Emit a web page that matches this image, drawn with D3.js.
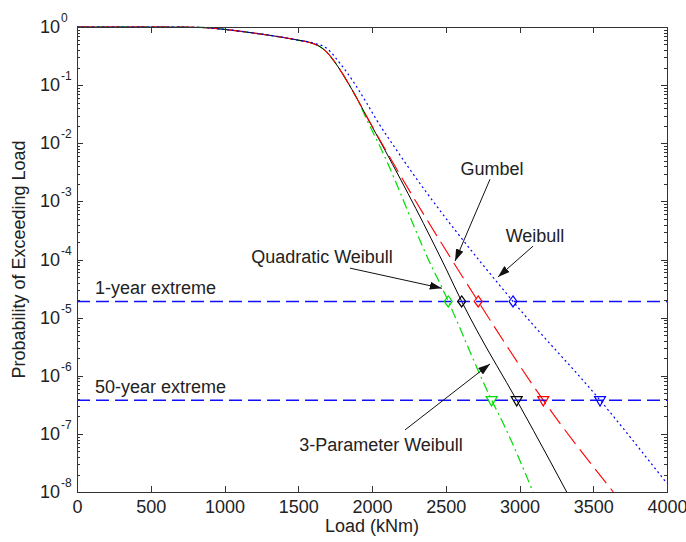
<!DOCTYPE html>
<html>
<head>
<meta charset="utf-8">
<script src="https://cdn.jsdelivr.net/npm/d3@7"></script>
<style>
  body { margin: 0; background: #fff; }
  text { font-family: "Liberation Sans", Arial, sans-serif; fill: #222; }
</style>
</head>
<body>
<svg id="chart" width="686" height="542"></svg>
<script>
/* global d3 */

// empirical body of the exceedance curve, shared by all fits
var bodyLoad = [0, 500, 830, 1000, 1130, 1290, 1400, 1490, 1580, 1640, 1690, 1740, 1780, 1830, 1900];
var bodyProb = [1, 1, 0.985, 0.91, 0.83, 0.73, 0.66, 0.60, 0.54, 0.47, 0.376, 0.265, 0.189, 0.118, 0.0577];

// fitted tails
var quadLoad = [1960, 2066, 2416, 2461, 2517, 2811, 2902, 3092];
var quadProb = [0.027, 7.6e-3, 6.6e-5, 3.9e-5, 1.9e-5, 3.8e-7, 1.3e-7, 1e-8];

var threeLoad = [1964, 2088, 2506, 2608, 2710, 2981, 3094, 3320];
var threeProb = [0.0286, 7.6e-3, 6.6e-5, 1.9e-5, 6.1e-6, 3.8e-7, 1.15e-7, 1e-8];

var gumLoad = [1964, 2100, 2720, 3161, 3636];
var gumProb = [0.029, 7.1e-3, 1.9e-5, 3.8e-7, 1e-8];

var weiLoad = [1600, 1693, 1783, 1873, 1964, 2032, 2167, 2956, 3546, 4000];
var weiProb = [0.53, 0.43, 0.237, 0.115, 0.049, 0.025, 7.6e-3, 1.9e-5, 3.8e-7, 1.4e-8];

// extreme levels and where each fit crosses them
var oneYearProb = 1.9e-5;
var fiftyYearProb = 3.8e-7;
var oneYearLoad = [2517, 2608, 2720, 2956];
var fiftyYearLoad = [2811, 2981, 3161, 3546];

var xTicks = [0, 500, 1000, 1500, 2000, 2500, 3000, 3500, 4000];
var yExp = [0, -1, -2, -3, -4, -5, -6, -7, -8];

// annotations (data coordinates)
var noteText = ['Gumbel', 'Weibull', 'Quadratic Weibull', '3-Parameter Weibull'];
var noteAt = [[2814, 2.8e-3], [3105, 2.0e-4], [1661, 8.7e-5], [2061, 5.1e-8]];
var noteFrom = [[2800, 2.4e-3], [3092, 1.7e-4], [1851, 7.1e-5], [2224, 1.17e-7]];
var noteTo = [[2563, 9.4e-5], [2854, 5.0e-5], [2473, 3.2e-5], [2800, 1.6e-6]];

var svg = d3.select('#chart');
var plotL = 77, plotR = 667, plotT = 27, plotB = 492;

var x = d3.scaleLinear().domain([0, 4000]).range([plotL, plotR]);
var y = d3.scaleLog().domain([1e-8, 1]).range([plotB, plotT]);

function zip(a, b) { return a.map(function(d, i) { return [d, b[i]]; }); }

var series = [
  { pts: zip(bodyLoad, bodyProb).concat(zip(quadLoad, quadProb)), color: '#00dd00', dash: '10,4,2,4', w: 1.2 },
  { pts: zip(bodyLoad, bodyProb).concat(zip(threeLoad, threeProb)), color: '#000000', dash: null, w: 1 },
  { pts: zip(bodyLoad, bodyProb).concat(zip(gumLoad, gumProb)), color: '#ff0000', dash: '18,7', w: 1.1 },
  { pts: zip(bodyLoad.slice(0, 8), bodyProb.slice(0, 8)).concat(zip(weiLoad, weiProb)), color: '#0000ff', dash: '2,3', w: 1.2 }
];

var defs = svg.append('defs');
defs.append('clipPath').attr('id', 'plotclip')
  .append('rect').attr('x', plotL).attr('y', plotT - 1)
  .attr('width', plotR - plotL).attr('height', plotB - plotT + 2);

defs.append('marker')
  .attr('id', 'head')
  .attr('viewBox', '0 0 12 8')
  .attr('refX', 12).attr('refY', 4)
  .attr('markerWidth', 12).attr('markerHeight', 8)
  .attr('markerUnits', 'userSpaceOnUse')
  .attr('orient', 'auto')
  .append('path').attr('d', 'M0,0L12,4L0,8Z').attr('fill', '#111');

var line = d3.line()
  .x(function(d) { return x(d[0]); })
  .y(function(d) { return y(d[1]); })
  .curve(d3.curveMonotoneX);

var plot = svg.append('g').attr('clip-path', 'url(#plotclip)');

plot.selectAll('path.fit')
  .data(series)
  .enter().append('path')
  .attr('class', 'fit')
  .attr('d', function(d) { return line(d.pts); })
  .attr('fill', 'none')
  .attr('stroke', function(d) { return d.color; })
  .attr('stroke-width', function(d) { return d.w; })
  .attr('stroke-dasharray', function(d) { return d.dash; });

// extreme level lines (a bit wider so the blue survives compression)
plot.selectAll('line.level')
  .data([oneYearProb, fiftyYearProb])
  .enter().append('line')
  .attr('class', 'level')
  .attr('x1', x(0)).attr('x2', x(4000))
  .attr('y1', function(d) { return y(d); })
  .attr('y2', function(d) { return y(d); })
  .attr('stroke', '#1010ff')
  .attr('stroke-width', 1.5)
  .attr('stroke-dasharray', '13,6');

svg.selectAll('text.level')
  .data([['1-year extreme', oneYearProb], ['50-year extreme', fiftyYearProb]])
  .enter().append('text')
  .attr('class', 'level')
  .attr('x', x(122))
  .attr('y', function(d) { return y(d[1]) - 7; })
  .style('font-size', '18px')
  .text(function(d) { return d[0]; });

// markers
svg.selectAll('path.diamond')
  .data(oneYearLoad)
  .enter().append('path')
  .attr('class', 'diamond')
  .attr('transform', function(d) { return 'translate(' + x(d) + ',' + y(oneYearProb) + ')'; })
  .attr('d', 'M0,-5.5L4,0L0,5.5L-4,0Z')
  .attr('fill', 'none')
  .attr('stroke-width', 1.2)
  .attr('stroke', function(d, i) { return series[i].color; });

svg.selectAll('path.tri')
  .data(fiftyYearLoad)
  .enter().append('path')
  .attr('class', 'tri')
  .attr('transform', function(d) { return 'translate(' + x(d) + ',' + y(fiftyYearProb) + ')'; })
  .attr('d', 'M-5.5,-3.5L5.5,-3.5L0,6Z')
  .attr('fill', 'none')
  .attr('stroke-width', 1.2)
  .attr('stroke', function(d, i) { return series[i].color; });

// axes, box style with inward ticks
var axisColor = '#333';
var minor = [];
d3.range(-8, 0).forEach(function(e) {
  for (var m = 2; m <= 9; m++) minor.push(m * Math.pow(10, e));
});
var major = yExp.map(function(e) { return Math.pow(10, e); });

function styleAxis(g) {
  g.selectAll('.domain').remove();
  g.selectAll('line').attr('stroke', axisColor).attr('shape-rendering', 'crispEdges');
  g.selectAll('text').style('font-size', '18px').attr('fill', '#222').attr('font-family', null);
}

svg.append('g').attr('transform', 'translate(0,' + plotB + ')')
  .call(d3.axisBottom(x).tickValues(xTicks).tickSize(-6).tickPadding(8).tickFormat(d3.format('d')))
  .call(styleAxis);

svg.append('g').attr('transform', 'translate(0,' + plotT + ')')
  .call(d3.axisTop(x).tickValues(xTicks).tickSize(-6).tickFormat(''))
  .call(styleAxis);

[[plotL, d3.axisLeft], [plotR, d3.axisRight]].forEach(function(a) {
  svg.append('g').attr('transform', 'translate(' + a[0] + ',0)')
    .call(a[1](y).tickValues(major).tickSize(-6).tickFormat(''))
    .call(styleAxis);
  svg.append('g').attr('transform', 'translate(' + a[0] + ',0)')
    .call(a[1](y).tickValues(minor).tickSize(-3).tickFormat(''))
    .call(styleAxis);
});

svg.append('rect')
  .attr('x', plotL + 0.5).attr('y', plotT + 0.5)
  .attr('width', plotR - plotL).attr('height', plotB - plotT)
  .attr('fill', 'none').attr('stroke', axisColor).attr('stroke-width', 1);

// y tick labels as 10^n
var ylab = svg.append('g').selectAll('g').data(yExp).enter().append('g');
ylab.append('text')
  .attr('x', 60).attr('y', function(d) { return y(Math.pow(10, d)) + 6; })
  .attr('text-anchor', 'end')
  .style('font-size', '18px')
  .text('10');
ylab.append('text')
  .attr('x', 61).attr('y', function(d) { return y(Math.pow(10, d)) - 5; })
  .style('font-size', '12px')
  .text(function(d) { return d; });

// axis titles
svg.append('text')
  .attr('x', (plotL + plotR) / 2).attr('y', 532)
  .attr('text-anchor', 'middle')
  .style('font-size', '18px')
  .text('Load (kNm)');

svg.append('text')
  .attr('transform', 'translate(25,' + (plotT + plotB) / 2 + ') rotate(-90)')
  .attr('text-anchor', 'middle')
  .style('font-size', '18px')
  .text('Probability of Exceeding Load');

// annotations
svg.selectAll('line.note')
  .data(noteText)
  .enter().append('line')
  .attr('class', 'note')
  .attr('x1', function(d, i) { return x(noteFrom[i][0]); })
  .attr('y1', function(d, i) { return y(noteFrom[i][1]); })
  .attr('x2', function(d, i) { return x(noteTo[i][0]); })
  .attr('y2', function(d, i) { return y(noteTo[i][1]); })
  .attr('stroke', '#111')
  .attr('stroke-width', 1)
  .attr('marker-end', 'url(#head)');

svg.selectAll('text.note')
  .data(noteText)
  .enter().append('text')
  .attr('class', 'note')
  .attr('x', function(d, i) { return x(noteAt[i][0]); })
  .attr('y', function(d, i) { return y(noteAt[i][1]); })
  .attr('text-anchor', 'middle')
  .style('font-size', '18px')
  .text(function(d) { return d; });
</script>
</body>
</html>
